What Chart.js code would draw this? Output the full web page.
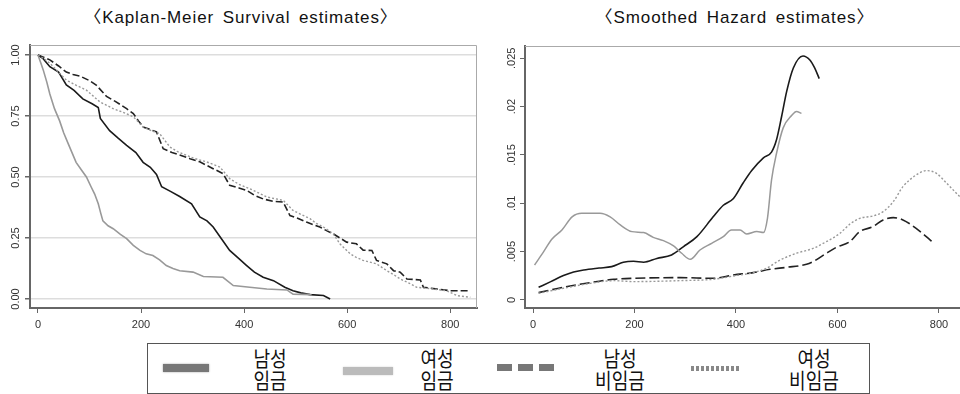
<!DOCTYPE html>
<html>
<head>
<meta charset="utf-8">
<script src="https://cdn.jsdelivr.net/npm/chart.js@4.4.1/dist/chart.umd.min.js"></script>
<style>
    html, body { margin: 0; padding: 0; width: 960px; height: 394px; overflow: hidden; background: #fff; }
    .title { position: absolute; top: 3px; font-family: "Liberation Sans", "Noto Sans CJK KR", sans-serif; font-size: 17px; letter-spacing: 0.9px; word-spacing: 3px; color: #111; white-space: nowrap; transform: translateX(-50%); }
    #kmChart { position: absolute; left: 0; top: 40px; }
    #hzChart { position: absolute; left: 480px; top: 40px; }
    #legend { position: absolute; left: 147px; top: 343px; width: 723px; height: 51px; border: 1px solid #555; box-sizing: border-box; font-family: "Noto Sans CJK KR", sans-serif; }
    .sw { position: absolute; }
    .lab { position: absolute; top: 2px; font-size: 21px; line-height: 22px; text-align: center; color: #111; transform: translateX(-50%) scaleX(0.86); white-space: nowrap; }
</style>
</head>
<body>
<div class="title" style="left:241px">〈Kaplan-Meier Survival estimates〉</div>
<div class="title" style="left:735px">〈Smoothed Hazard estimates〉</div>
<canvas id="kmChart" width="480" height="290"></canvas>
<canvas id="hzChart" width="500" height="290"></canvas>
<div id="legend">
    <div class="sw" style="left:15px;top:20px;width:46px;height:8px;background:#777;box-shadow:0 0 2px #999"></div>
    <div class="lab" style="left:122px">남성<br>임금</div>
    <div class="sw" style="left:195px;top:23px;width:50px;height:8px;background:#bbb;box-shadow:0 0 2px #ccc"></div>
    <div class="lab" style="left:289px">여성<br>임금</div>
    <div class="sw" style="left:349px;top:20px;width:57px;height:7px;background:repeating-linear-gradient(90deg,#777 0 15px,transparent 15px 21px)"></div>
    <div class="lab" style="left:472px">남성<br>비임금</div>
    <div class="sw" style="left:543px;top:22px;width:50px;height:5px;background:repeating-linear-gradient(90deg,#888 0 3px,transparent 3px 5px)"></div>
    <div class="lab" style="left:666px">여성<br>비임금</div>
</div>
<script>
// Kaplan-Meier survival, time (days) and survival
const kmMaleWageT = [0, 10, 23, 40, 55, 70, 87, 105, 117, 121, 139, 155, 172, 190, 204, 218, 230, 240, 258, 275, 298, 314, 328, 340, 356, 372, 390, 405, 420, 437, 457, 479, 495, 510, 528, 554, 567];
const kmMaleWageS = [1, 0.985, 0.952, 0.93, 0.877, 0.855, 0.82, 0.80, 0.785, 0.74, 0.69, 0.66, 0.63, 0.60, 0.56, 0.54, 0.51, 0.46, 0.44, 0.42, 0.39, 0.336, 0.32, 0.295, 0.247, 0.199, 0.165, 0.137, 0.11, 0.089, 0.075, 0.048, 0.034, 0.025, 0.018, 0.014, 0];

const kmFemaleWageT = [0, 5, 10, 17, 23, 32, 42, 50, 58, 66, 74, 84, 94, 103, 110, 117, 122, 126, 136, 146, 160, 172, 185, 198, 210, 223, 236, 249, 262, 275, 301, 321, 359, 379, 411, 444, 483, 495, 531];
const kmFemaleWageS = [1, 0.97, 0.94, 0.89, 0.84, 0.78, 0.73, 0.68, 0.64, 0.60, 0.56, 0.53, 0.50, 0.46, 0.43, 0.39, 0.35, 0.32, 0.30, 0.288, 0.265, 0.247, 0.22, 0.199, 0.185, 0.178, 0.16, 0.137, 0.125, 0.116, 0.11, 0.092, 0.089, 0.055, 0.048, 0.041, 0.037, 0.02, 0.018];

const kmMaleSelfT = [0, 12, 23, 40, 55, 68, 81, 100, 113, 133, 150, 172, 185, 195, 204, 230, 243, 260, 275, 295, 314, 340, 359, 372, 390, 405, 420, 437, 457, 476, 489, 505, 521, 547, 560, 573, 586, 599, 618, 631, 648, 657, 677, 690, 703, 716, 742, 748, 800, 839];
const kmMaleSelfS = [1, 0.99, 0.98, 0.955, 0.93, 0.92, 0.914, 0.895, 0.877, 0.83, 0.81, 0.78, 0.76, 0.73, 0.705, 0.685, 0.616, 0.60, 0.59, 0.575, 0.562, 0.534, 0.514, 0.466, 0.455, 0.445, 0.425, 0.41, 0.40, 0.397, 0.342, 0.33, 0.315, 0.295, 0.28, 0.267, 0.25, 0.233, 0.226, 0.20, 0.199, 0.158, 0.144, 0.116, 0.11, 0.082, 0.078, 0.048, 0.034, 0.034];

const kmFemaleSelfT = [0, 12, 23, 40, 55, 75, 94, 108, 120, 146, 165, 185, 204, 220, 236, 256, 270, 288, 305, 327, 353, 372, 390, 411, 428, 444, 476, 495, 512, 528, 540, 554, 573, 586, 596, 606, 618, 631, 657, 677, 690, 703, 720, 735, 767, 793, 813, 839];
const kmFemaleSelfS = [1, 0.985, 0.966, 0.93, 0.897, 0.875, 0.856, 0.83, 0.808, 0.78, 0.765, 0.747, 0.705, 0.69, 0.678, 0.623, 0.605, 0.589, 0.575, 0.562, 0.541, 0.493, 0.47, 0.452, 0.435, 0.418, 0.404, 0.363, 0.345, 0.329, 0.31, 0.295, 0.267, 0.226, 0.205, 0.185, 0.17, 0.158, 0.144, 0.116, 0.10, 0.082, 0.065, 0.048, 0.041, 0.034, 0.014, 0.007];

// smoothed hazard
const hzMaleWageT = [11, 35, 60, 80, 100, 130, 155, 178, 198, 218, 244, 273, 296, 323, 355, 375, 395, 414, 431, 454, 470, 480, 490, 500, 513, 532, 546, 555, 564];
const hzMaleWageH = [0.00131, 0.0019, 0.00252, 0.0029, 0.0031, 0.0033, 0.00345, 0.0039, 0.004, 0.0039, 0.0043, 0.00466, 0.0055, 0.00655, 0.0086, 0.0098, 0.0105, 0.0121, 0.0134, 0.0147, 0.0153, 0.0166, 0.019, 0.0216, 0.024, 0.02524, 0.0248, 0.024, 0.0229];

const hzFemaleWageT = [3, 21, 37, 57, 77, 96, 132, 152, 172, 195, 218, 237, 257, 277, 293, 310, 329, 352, 375, 391, 408, 421, 441, 454, 462, 470, 480, 493, 510, 519, 529];
const hzFemaleWageH = [0.00362, 0.005, 0.00628, 0.00724, 0.0086, 0.00897, 0.00897, 0.0086, 0.00776, 0.00707, 0.00697, 0.00648, 0.00614, 0.00559, 0.00483, 0.0042, 0.00517, 0.00586, 0.00655, 0.00724, 0.00724, 0.00683, 0.00707, 0.00697, 0.00845, 0.0124, 0.0152, 0.0178, 0.0191, 0.0195, 0.0193];

const hzMaleSelfT = [11, 60, 113, 159, 198, 290, 355, 395, 434, 467, 500, 539, 552, 578, 598, 624, 644, 670, 690, 710, 729, 755, 775, 790];
const hzMaleSelfH = [0.00076, 0.00131, 0.0018, 0.00214, 0.00224, 0.00231, 0.00224, 0.00259, 0.00283, 0.00317, 0.00338, 0.00369, 0.00397, 0.00483, 0.00545, 0.00603, 0.00707, 0.00759, 0.00828, 0.00852, 0.00828, 0.00741, 0.00655, 0.00586];

const hzFemaleSelfT = [11, 60, 113, 159, 198, 290, 355, 395, 434, 460, 487, 519, 552, 578, 605, 624, 644, 670, 690, 710, 729, 755, 775, 795, 814, 841, 860];
const hzFemaleSelfH = [0.00069, 0.00121, 0.00172, 0.002, 0.0019, 0.002, 0.00214, 0.00248, 0.00283, 0.00328, 0.00414, 0.00483, 0.00534, 0.00603, 0.0069, 0.00783, 0.00845, 0.00869, 0.00914, 0.01017, 0.01172, 0.01293, 0.01338, 0.0131, 0.01214, 0.01069, 0.0098];

const xTicks = [0, 200, 400, 600, 800];
const kmYTicks = [0, 0.25, 0.5, 0.75, 1];
const hzYTicks = [0, 0.005, 0.01, 0.015, 0.02, 0.025];

const tickFont = '11px "Liberation Sans", Arial, sans-serif';

function pts(xs, ys) {
    return xs.map((x, i) => ({ x: x, y: ys[i] }));
}

// draws the top and right edges of the plot box, plus rotated y labels
function boxPlugin(yLabelX, fmt) {
    return {
        id: 'box',
        afterDraw(chart) {
            const ctx = chart.ctx;
            const a = chart.chartArea;
            ctx.save();
            ctx.strokeStyle = '#aaa';
            ctx.lineWidth = 1;
            ctx.beginPath();
            ctx.moveTo(a.left, a.top + 0.5);
            ctx.lineTo(a.right - 0.5, a.top + 0.5);
            ctx.lineTo(a.right - 0.5, a.bottom);
            ctx.stroke();

            const y = chart.scales.y;
            ctx.fillStyle = '#333';
            ctx.font = tickFont;
            ctx.textAlign = 'center';
            ctx.textBaseline = 'middle';
            y.ticks.forEach(t => {
                ctx.save();
                ctx.translate(yLabelX, y.getPixelForValue(t.value));
                ctx.rotate(-Math.PI / 2);
                ctx.fillText(fmt(t.value), 0, 0);
                ctx.restore();
            });
            ctx.restore();
        }
    };
}

function xScale(min, max) {
    return {
        type: 'linear',
        min: min,
        max: max,
        afterBuildTicks: s => { s.ticks = xTicks.map(v => ({ value: v })); },
        afterFit: s => { s.height = 22; },
        border: { color: '#666', width: 2 },
        grid: { drawOnChartArea: false, tickLength: 5, tickColor: '#666', lineWidth: 1 },
        ticks: { color: '#333', font: { family: '"Liberation Sans", Arial, sans-serif', size: 11 }, padding: 5, maxRotation: 0 }
    };
}

const commonOpts = {
    responsive: false,
    animation: false,
    plugins: { legend: { display: false }, tooltip: { enabled: false } },
    elements: { point: { radius: 0 } }
};

new Chart(document.getElementById('kmChart'), {
    type: 'line',
    data: {
        datasets: [
            { data: pts(kmFemaleSelfT, kmFemaleSelfS), borderColor: '#999', borderWidth: 1.4, borderDash: [2, 2] },
            { data: pts(kmMaleSelfT, kmMaleSelfS), borderColor: '#222', borderWidth: 1.6, borderDash: [7, 3] },
            { data: pts(kmFemaleWageT, kmFemaleWageS), borderColor: '#999', borderWidth: 1.6 },
            { data: pts(kmMaleWageT, kmMaleWageS), borderColor: '#1a1a1a', borderWidth: 1.6 }
        ]
    },
    options: {
        ...commonOpts,
        layout: { padding: { top: 5, right: 3, left: 0, bottom: 0 } },
        scales: {
            x: xScale(-15.5, 852),
            y: {
                type: 'linear',
                min: -0.037,
                max: 1.041,
                afterBuildTicks: s => { s.ticks = kmYTicks.map(v => ({ value: v })); },
                afterFit: s => { s.width = 30; },
                border: { color: '#666', width: 2 },
                grid: { color: '#ddd', lineWidth: 1.5, tickLength: 5, tickColor: '#666' },
                ticks: { display: false }
            }
        }
    },
    plugins: [boxPlugin(16, v => v.toFixed(2))]
});

new Chart(document.getElementById('hzChart'), {
    type: 'line',
    data: {
        datasets: [
            { data: pts(hzFemaleSelfT, hzFemaleSelfH), borderColor: '#999', borderWidth: 1.4, borderDash: [2, 2], cubicInterpolationMode: 'monotone' },
            { data: pts(hzMaleSelfT, hzMaleSelfH), borderColor: '#222', borderWidth: 1.6, borderDash: [10, 4], cubicInterpolationMode: 'monotone' },
            { data: pts(hzFemaleWageT, hzFemaleWageH), borderColor: '#999', borderWidth: 1.5, cubicInterpolationMode: 'monotone' },
            { data: pts(hzMaleWageT, hzMaleWageH), borderColor: '#1a1a1a', borderWidth: 1.6, cubicInterpolationMode: 'monotone' }
        ]
    },
    options: {
        ...commonOpts,
        layout: { padding: { top: 6, right: 5, left: 0, bottom: 0 } },
        scales: {
            x: xScale(-15.8, 871),
            y: {
                type: 'linear',
                min: -0.00083,
                max: 0.02627,
                afterBuildTicks: s => { s.ticks = hzYTicks.map(v => ({ value: v })); },
                afterFit: s => { s.width = 45; },
                border: { color: '#666', width: 2 },
                grid: { drawOnChartArea: false, tickLength: 5, tickColor: '#666' },
                ticks: { display: false }
            }
        }
    },
    plugins: [boxPlugin(32, v => v === 0 ? '0' : String(v).replace(/^0/, ''))]
});
</script>
</body>
</html>
